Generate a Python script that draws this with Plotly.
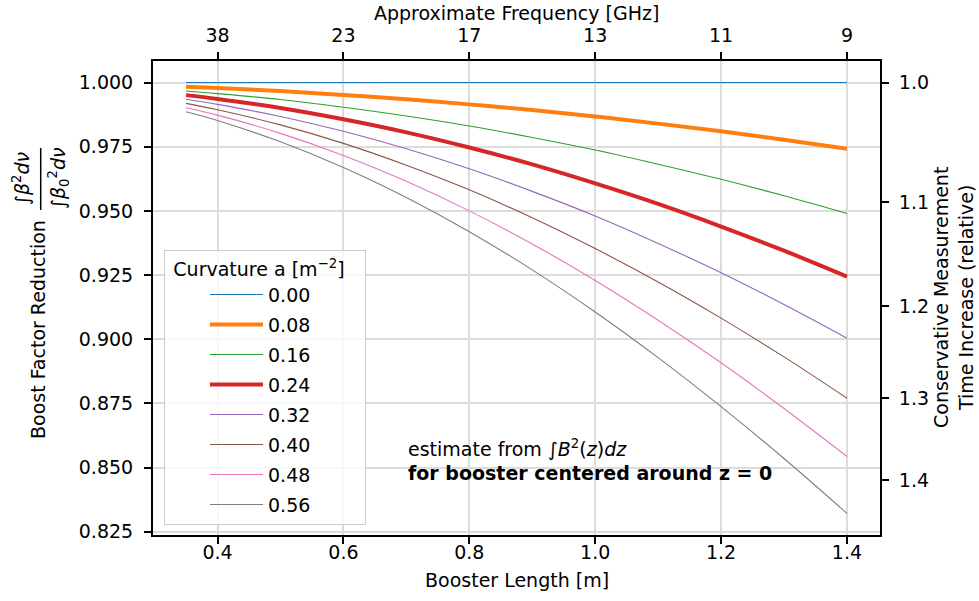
import numpy as np
import plotly.graph_objects as go

# ---------------- data ----------------
booster_length = [0.35, 0.4, 0.5, 0.6, 0.7, 0.8, 0.9, 1.0, 1.1, 1.2, 1.3, 1.4]
curvatures = ["0.00", "0.08", "0.16", "0.24", "0.32", "0.40", "0.48", "0.56"]

bf_000 = [1.0000, 1.0000, 1.0000, 1.0000, 1.0000, 1.0000, 1.0000, 1.0000, 1.0000, 1.0000, 1.0000, 1.0000]
bf_008 = [0.9984, 0.9979, 0.9967, 0.9952, 0.9935, 0.9915, 0.9893, 0.9868, 0.9840, 0.9810, 0.9777, 0.9742]
bf_016 = [0.9967, 0.9957, 0.9934, 0.9904, 0.9870, 0.9831, 0.9786, 0.9737, 0.9682, 0.9623, 0.9559, 0.9490]
bf_024 = [0.9951, 0.9936, 0.9901, 0.9857, 0.9806, 0.9747, 0.9681, 0.9607, 0.9527, 0.9439, 0.9345, 0.9244]
bf_032 = [0.9935, 0.9915, 0.9868, 0.9810, 0.9742, 0.9664, 0.9576, 0.9480, 0.9373, 0.9259, 0.9135, 0.9004]
bf_040 = [0.9919, 0.9894, 0.9835, 0.9763, 0.9678, 0.9582, 0.9473, 0.9353, 0.9223, 0.9082, 0.8931, 0.8770]
bf_048 = [0.9902, 0.9873, 0.9802, 0.9716, 0.9615, 0.9500, 0.9371, 0.9229, 0.9074, 0.8908, 0.8730, 0.8543]
bf_056 = [0.9886, 0.9852, 0.9769, 0.9669, 0.9552, 0.9419, 0.9270, 0.9106, 0.8928, 0.8737, 0.8535, 0.8321]
series = [bf_000, bf_008, bf_016, bf_024, bf_032, bf_040, bf_048, bf_056]

x_ticks = [0.4, 0.6, 0.8, 1.0, 1.2, 1.4]
x_tick_labels = ["0.4", "0.6", "0.8", "1.0", "1.2", "1.4"]
freq_tick_labels = ["38", "23", "17", "13", "11", "9"]
y_ticks = [0.825, 0.850, 0.875, 0.900, 0.925, 0.950, 0.975, 1.000]
y_tick_labels = ["0.825", "0.850", "0.875", "0.900", "0.925", "0.950", "0.975", "1.000"]
time_increase_ticks = [1.0, 1.1, 1.2, 1.3, 1.4]
time_increase_labels = ["1.0", "1.1", "1.2", "1.3", "1.4"]

# ---------------- styling ----------------
colors = ["#1f77b4", "#ff7f0e", "#2ca02c", "#d62728", "#9467bd", "#8c564b", "#e377c2", "#7f7f7f"]
widths = [1.1, 4, 1.1, 4, 1.1, 1.1, 1.1, 1.1]
FONT = "DejaVu Sans"
FS = 19

W, H = 979, 601
L_PX, R_PX, T_PX, B_PX = 153, 880, 61, 535


def px_x(px):
    return (px - L_PX) / (R_PX - L_PX)


def px_y(py):
    return (B_PX - py) / (B_PX - T_PX)


x_range = [0.2975, 1.4525]
y_range = [0.8237, 1.0084]

fig = go.Figure()
for name, vals, c, w in zip(curvatures, series, colors, widths):
    fig.add_trace(go.Scatter(
        x=booster_length, y=vals, mode="lines", name=name,
        line=dict(color=c, width=w, shape="spline"),
        legendgroup=name,
    ))

# invisible trace to activate top / right axes
fig.add_trace(go.Scatter(
    x=[booster_length[0], booster_length[-1]], y=[bf_000[0], bf_056[-1]],
    xaxis="x2", yaxis="y2", mode="markers", marker=dict(opacity=0),
    showlegend=False, hoverinfo="skip",
))

axis_common = dict(
    showline=True, linecolor="black", linewidth=2,
    ticks="outside", ticklen=7, tickwidth=2, tickcolor="black",
    tickfont=dict(family=FONT, size=FS, color="black"),
    zeroline=False,
)

NB = "\u00a0"

fig.update_layout(
    width=W, height=H,
    margin=dict(l=L_PX, r=W - R_PX, t=T_PX, b=H - B_PX),
    paper_bgcolor="white", plot_bgcolor="white",
    font=dict(family=FONT, size=FS, color="black"),
    xaxis=dict(range=x_range, tickvals=x_ticks, ticktext=x_tick_labels,
               showgrid=True, gridcolor="#dcdcdc", gridwidth=1.5,
               ticklabelstandoff=-8, **axis_common),
    xaxis2=dict(range=x_range, overlaying="x", side="top", anchor="y2",
                tickvals=x_ticks, ticktext=freq_tick_labels, showgrid=False,
                ticklabelstandoff=2, **axis_common),
    yaxis=dict(range=y_range, tickvals=y_ticks, ticktext=y_tick_labels,
               showgrid=True, gridcolor="#dcdcdc", gridwidth=1.5,
               ticklabelstandoff=7, **axis_common),
    yaxis2=dict(range=y_range, overlaying="y", side="right", anchor="x2",
                tickvals=[1 / np.sqrt(t) for t in time_increase_ticks],
                ticktext=time_increase_labels, showgrid=False,
                ticklabelstandoff=6, **axis_common),
    legend=dict(
        x=px_x(164), y=px_y(250), xanchor="left", yanchor="top",
        bgcolor="rgba(255,255,255,0.8)", bordercolor="#cccccc", borderwidth=1,
        font=dict(family=FONT, size=FS, color="black"),
        title=dict(text=NB + "Curvature a [m<sup>−2</sup>]" + NB * 3, side="top center",
                   font=dict(family=FONT, size=FS, color="black")),
        tracegroupgap=2.3, indentation=40, itemwidth=53,
    ),
    showlegend=True,
)

ann = []
# bottom x title
ann.append(dict(text="Booster Length [m]", x=px_x(516.5), y=px_y(580),
                xanchor="center", yanchor="middle", showarrow=False))
# top x title
ann.append(dict(text="Approximate Frequency [GHz]", x=px_x(516.5), y=px_y(13),
                xanchor="center", yanchor="middle", showarrow=False))
# right y title
ann.append(dict(text="Conservative Measurement<br>Time Increase (relative)",
                x=px_x(953), y=px_y(298), xanchor="center", yanchor="middle",
                textangle=-90, showarrow=False))
# left y title (text + fraction)
ann.append(dict(text="Boost Factor Reduction", x=px_x(38), y=px_y(330),
                xanchor="center", yanchor="middle", textangle=-90, showarrow=False))
ann.append(dict(text="∫<i>β</i><sup>2</sup><i>dν</i>", x=px_x(21), y=px_y(178),
                xanchor="center", yanchor="middle", textangle=-90, showarrow=False))
ann.append(dict(text="∫<i>β</i><sub>0</sub><sup>2</sup><i>dν</i>", x=px_x(58), y=px_y(178),
                xanchor="center", yanchor="middle", textangle=-90, showarrow=False))
# annotation text in plot
ann.append(dict(text="estimate from ∫<i>B</i><sup>2</sup>(<i>z</i>)<i>dz</i>",
                x=px_x(406), y=px_y(448), xanchor="left", yanchor="middle", showarrow=False))
ann.append(dict(text="<b>for booster centered around z = 0</b>",
                x=px_x(406), y=px_y(473), xanchor="left", yanchor="middle", showarrow=False))
for a in ann:
    a.update(xref="paper", yref="paper", font=dict(family=FONT, size=FS, color="black"))
fig.update_layout(annotations=ann)

# fraction bar for left label
fig.add_shape(type="line", xref="paper", yref="paper",
              x0=px_x(40.7), x1=px_x(40.7), y0=px_y(148), y1=px_y(210),
              line=dict(color="black", width=1.5))

fig.write_html("out.html")
